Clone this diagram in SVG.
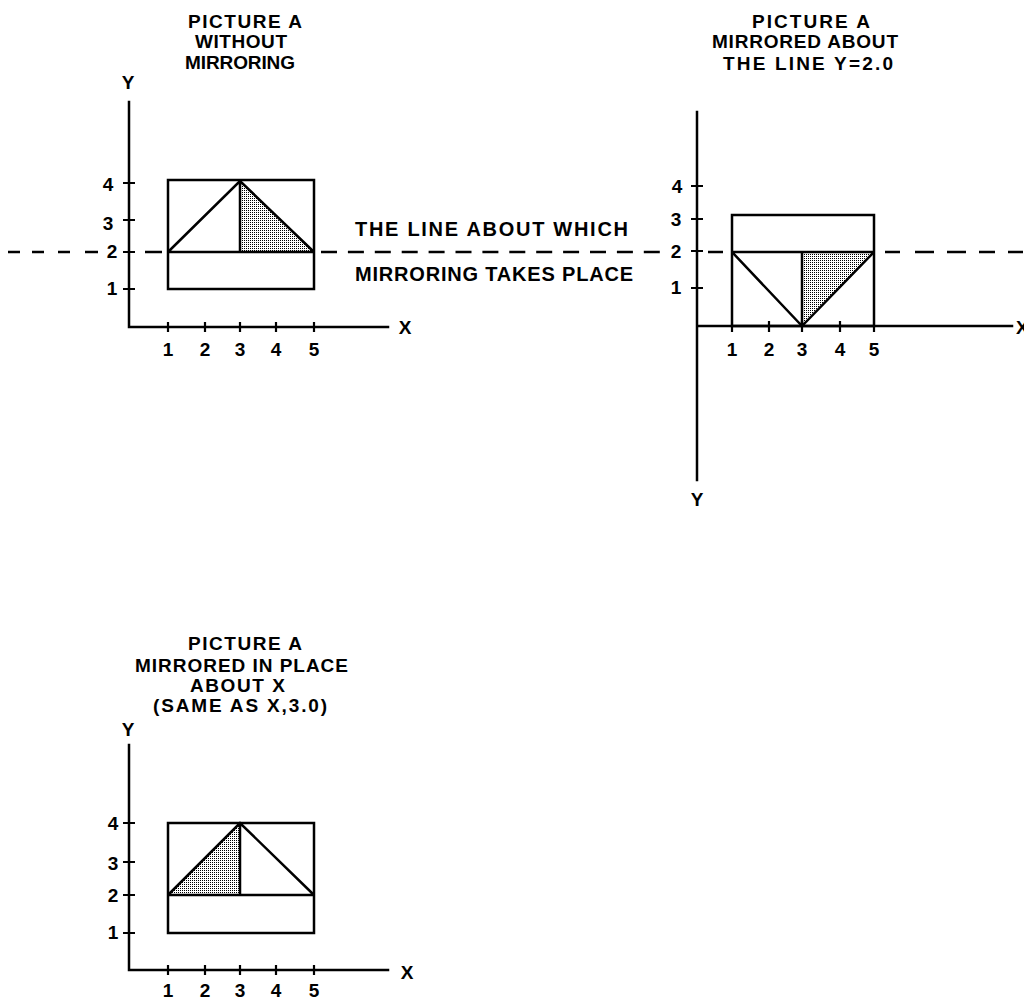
<svg xmlns="http://www.w3.org/2000/svg" width="1024" height="999" viewBox="0 0 1024 999">
<defs>
<pattern id="stip" width="2" height="2" patternUnits="userSpaceOnUse">
<rect width="2" height="2" fill="#fff"/>
<rect width="1" height="1" fill="#000"/>
</pattern>
<style>
.ax{stroke:#000;stroke-width:2.5;fill:none;stroke-linecap:square}
.fg{stroke:#000;stroke-width:2.5;fill:none;stroke-linejoin:miter}
.tk{stroke:#000;stroke-width:2.2;fill:none}
.sh{fill:url(#stip);stroke:none}
.t{font-family:"Liberation Sans",Arial,sans-serif;font-weight:bold;font-size:19px;fill:#000}
.m{font-family:"Liberation Sans",Arial,sans-serif;font-weight:bold;font-size:20px;fill:#000}
.n{font-family:"Liberation Sans",Arial,sans-serif;font-weight:bold;font-size:19px;fill:#000;text-anchor:middle}
.dl{stroke:#000;stroke-width:2.5;fill:none}
</style>
</defs>
<rect width="1024" height="999" fill="#fff"/>

<g id="mirror-line">
<path class="dl" d="M8 252H20M32 252H44M58 252H70M85 252H98M145 252H162"/>
<path class="dl" d="M321 252H660" stroke-dasharray="16 10.9"/>
<path class="dl" d="M708 252H723M885 252H900M915 252H934M947 252H966M979 252H995M1008 252H1023"/>
<text class="m" x="355" y="236" textLength="273" lengthAdjust="spacing">THE LINE ABOUT WHICH</text>
<text class="m" x="355" y="281" textLength="278" lengthAdjust="spacing">MIRRORING TAKES PLACE</text>
</g>

<g id="panel-a">
<text class="t" x="188" y="28" textLength="114" lengthAdjust="spacing">PICTURE A</text>
<text class="t" x="195" y="48" textLength="92" lengthAdjust="spacing">WITHOUT</text>
<text class="t" x="185" y="69" textLength="110" lengthAdjust="spacing">MIRRORING</text>
<path class="sh" d="M240 181L314 252H240Z"/>
<path class="ax" d="M129 102V327H388"/>
<path class="tk" d="M123 183H135M123 220H135M123 252H135M123 289H135M168 322V332M205 322V332M240 322V332M276 322V332M314 322V332"/>
<rect class="fg" x="168" y="180" width="146" height="109"/>
<path class="fg" d="M168 252H314M168 252L240 181L314 252M240 181V252"/>
<text class="n" x="128" y="89">Y</text>
<text class="n" x="405" y="334">X</text>
<text class="n" x="108" y="191">4</text>
<text class="n" x="108" y="230">3</text>
<text class="n" x="112" y="258">2</text>
<text class="n" x="112" y="295">1</text>
<text class="n" x="168" y="356">1</text>
<text class="n" x="205" y="356">2</text>
<text class="n" x="240" y="356">3</text>
<text class="n" x="276" y="356">4</text>
<text class="n" x="314" y="356">5</text>
</g>

<g id="panel-b">
<text class="t" x="752" y="28" textLength="118" lengthAdjust="spacing">PICTURE A</text>
<text class="t" x="712" y="48" textLength="186" lengthAdjust="spacing">MIRRORED ABOUT</text>
<text class="t" x="723" y="70" textLength="170" lengthAdjust="spacing">THE LINE Y=2.0</text>
<path class="sh" d="M802 252H874L802 326Z"/>
<path class="ax" d="M697 112V480M697 326H1012"/>
<path class="tk" d="M691 186H703M691 219H703M691 251H703M691 288H703M732 326V332M769 321V332M802 321V332M840 321V332M874 326V332"/>
<rect class="fg" x="732" y="215" width="142" height="111"/>
<path class="fg" d="M732 252H874M732 252L802 326L874 252M802 252V326"/>
<text class="n" x="697" y="506">Y</text>
<text class="t" x="1016" y="334">X</text>
<text class="n" x="677" y="193">4</text>
<text class="n" x="676" y="226">3</text>
<text class="n" x="676" y="258">2</text>
<text class="n" x="676" y="294">1</text>
<text class="n" x="732" y="356">1</text>
<text class="n" x="769" y="356">2</text>
<text class="n" x="802" y="356">3</text>
<text class="n" x="840" y="356">4</text>
<text class="n" x="874" y="356">5</text>
</g>

<g id="panel-c">
<text class="t" x="188" y="650" textLength="114" lengthAdjust="spacing">PICTURE A</text>
<text class="t" x="135" y="672" textLength="213" lengthAdjust="spacing">MIRRORED IN PLACE</text>
<text class="t" x="190" y="692" textLength="95" lengthAdjust="spacing">ABOUT X</text>
<text class="t" x="153" y="712" textLength="174" lengthAdjust="spacing">(SAME AS X,3.0)</text>
<path class="sh" d="M168 895L240 823V895Z"/>
<path class="ax" d="M129 745V970H388"/>
<path class="tk" d="M123 823H135M123 862H135M123 895H135M123 933H135M168 965V975M205 965V975M240 965V975M276 965V975M314 965V975"/>
<rect class="fg" x="168" y="823" width="146" height="110"/>
<path class="fg" d="M168 895H314M168 895L240 823L314 895M240 823V895"/>
<text class="n" x="128" y="736">Y</text>
<text class="n" x="407" y="979">X</text>
<text class="n" x="113" y="830">4</text>
<text class="n" x="113" y="870">3</text>
<text class="n" x="113" y="902">2</text>
<text class="n" x="113" y="939">1</text>
<text class="n" x="168" y="997">1</text>
<text class="n" x="205" y="997">2</text>
<text class="n" x="240" y="997">3</text>
<text class="n" x="276" y="997">4</text>
<text class="n" x="314" y="997">5</text>
</g>
</svg>
